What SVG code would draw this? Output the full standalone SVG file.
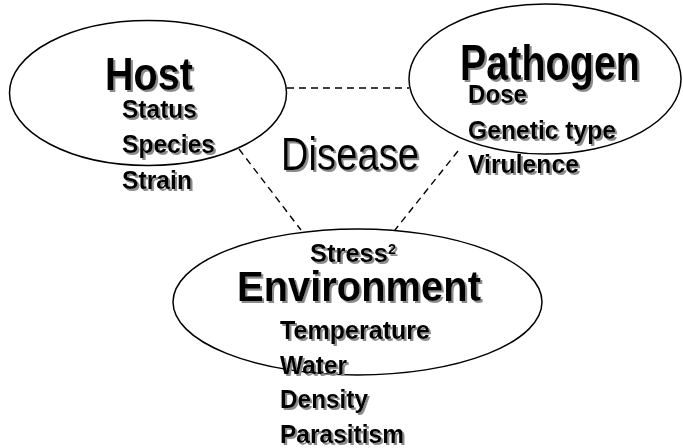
<svg xmlns="http://www.w3.org/2000/svg" width="683" height="448" viewBox="0 0 683 448">
  <defs>
    <!-- soft grey drop shadow behind every label -->
    <filter id="shadow" x="-10%" y="-30%" width="130%" height="170%">
      <feOffset in="SourceAlpha" dx="2" dy="2" result="off"/>
      <feGaussianBlur in="off" stdDeviation="0.6" result="blur"/>
      <feFlood flood-color="#8c8c8c"/>
      <feComposite in2="blur" operator="in" result="sh"/>
      <feMerge>
        <feMergeNode in="sh"/>
        <feMergeNode in="SourceGraphic"/>
      </feMerge>
    </filter>
  </defs>
  <style>
    .oval { fill: none; stroke: #000; stroke-width: 1.5; }
    .link { fill: none; stroke: #000; stroke-width: 1.4; stroke-dasharray: 7 5; }
    text { font-family: "Liberation Sans", Arial, sans-serif; fill: #000; filter: url(#shadow); }
    .title { font-weight: bold; }
    .item { font-weight: bold; font-size: 26.5px; }
    .center { font-size: 47px; }
  </style>

  <rect width="683" height="448" fill="#fff"/>

  <!-- dashed links between the three factors -->
  <g id="connectors">
    <line class="link" x1="287" y1="88" x2="409" y2="88"/>
    <line class="link" x1="239" y1="149" x2="301" y2="230"/>
    <line class="link" x1="458" y1="151" x2="395" y2="230"/>
  </g>

  <g id="host">
    <ellipse class="oval" cx="148" cy="93" rx="138.5" ry="72.5"/>
    <text class="title" x="105" y="90" font-size="46" textLength="88" lengthAdjust="spacingAndGlyphs">Host</text>
    <text class="item" x="122" y="118" textLength="75" lengthAdjust="spacingAndGlyphs">Status</text>
    <text class="item" x="122" y="153" textLength="93" lengthAdjust="spacingAndGlyphs">Species</text>
    <text class="item" x="122" y="189" textLength="70" lengthAdjust="spacingAndGlyphs">Strain</text>
  </g>

  <g id="pathogen">
    <ellipse class="oval" cx="545" cy="79" rx="136" ry="75"/>
    <text class="title" x="460" y="80" font-size="50" textLength="180" lengthAdjust="spacingAndGlyphs">Pathogen</text>
    <text class="item" x="468" y="103" textLength="59" lengthAdjust="spacingAndGlyphs">Dose</text>
    <text class="item" x="468" y="138.5" textLength="148" lengthAdjust="spacingAndGlyphs">Genetic type</text>
    <text class="item" x="468" y="173" textLength="111" lengthAdjust="spacingAndGlyphs">Virulence</text>
  </g>

  <g id="disease">
    <text class="center" x="281" y="170" textLength="138" lengthAdjust="spacingAndGlyphs">Disease</text>
  </g>

  <g id="environment">
    <ellipse class="oval" cx="357.5" cy="302" rx="184.5" ry="73"/>
    <text class="item" x="310" y="262" font-size="24" textLength="86" lengthAdjust="spacingAndGlyphs">Stress<tspan font-size="15" dy="-8">2</tspan></text>
    <text class="title" x="237" y="301" font-size="43" textLength="244" lengthAdjust="spacingAndGlyphs">Environment</text>
    <text class="item" x="280" y="339" textLength="150" lengthAdjust="spacingAndGlyphs">Temperature</text>
    <text class="item" x="280" y="374" textLength="67" lengthAdjust="spacingAndGlyphs">Water</text>
    <text class="item" x="280" y="408" textLength="88" lengthAdjust="spacingAndGlyphs">Density</text>
    <text class="item" x="280" y="443" textLength="124" lengthAdjust="spacingAndGlyphs">Parasitism</text>
  </g>
</svg>
